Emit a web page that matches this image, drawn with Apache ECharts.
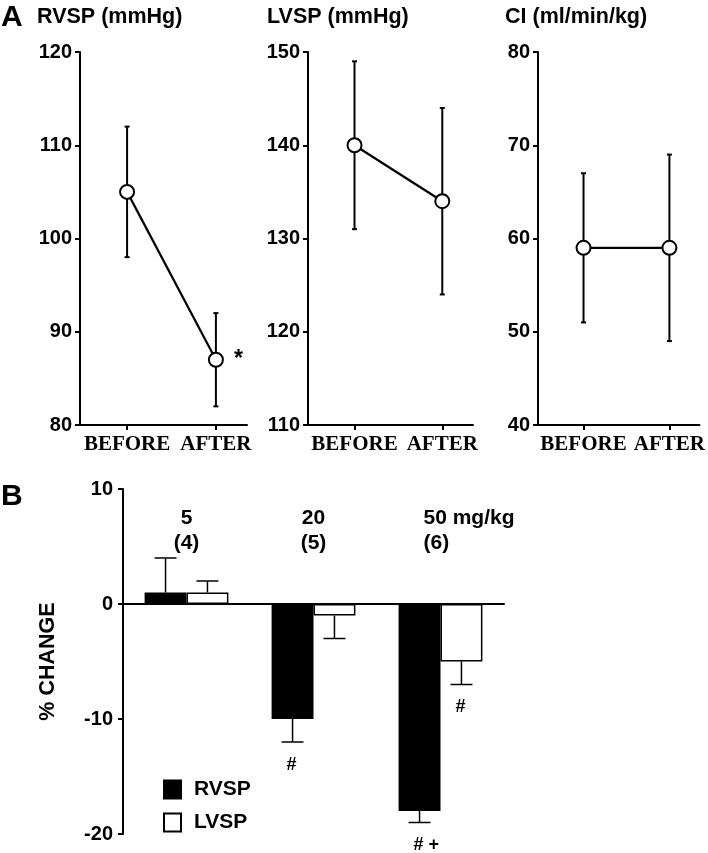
<!DOCTYPE html>
<html>
<head>
<meta charset="utf-8">
<script src="https://cdn.jsdelivr.net/npm/echarts@6/dist/echarts.min.js"></script>
<style>
html,body{margin:0;padding:0;background:#fff;}
#chart{width:708px;height:853px;}
</style>
</head>
<body>
<div id="chart"></div>
<script>
// ---- Panel A data ----
const topCategories = ['BEFORE', 'AFTER'];
const panelTitles = ['RVSP (mmHg)', 'LVSP (mmHg)', 'CI (ml/min/kg)'];
const rvspMean = [105, 87];
const rvspErr = [7, 5];
const rvspSig = ['', '*'];
const lvspMean = [140, 134];
const lvspErr = [9, 10];
const lvspSig = ['', ''];
const ciMean = [59, 59];
const ciErr = [8, 10];
const ciSig = ['', ''];
const yMins = [80, 110, 40];
const yMaxs = [120, 150, 80];

// ---- Panel B data ----
const doseCategories = ['5', '20', '50 mg/kg'];
const nAnimals = ['(4)', '(5)', '(6)'];
const rvspChange = [1, -10, -18];
const rvspChangeErr = [3, 2, 1];
const rvspChangeSig = ['', '#', '# +'];
const lvspChange = [1, -1, -5];
const lvspChangeErr = [1, 2, 2];
const lvspChangeSig = ['', '', '#'];
const bTicks = [-20, 10];

const SANS = 'Liberation Sans, Arial, sans-serif';
const SERIF = 'Liberation Serif, Times New Roman, serif';
const BLACK = '#000';

const chart = echarts.init(document.getElementById('chart'));

const topPanels = [
  {mean: rvspMean, err: rvspErr, sig: rvspSig},
  {mean: lvspMean, err: lvspErr, sig: lvspSig},
  {mean: ciMean, err: ciErr, sig: ciSig}
];
const grids = [
  {left: 80, top: 52, width: 167, height: 373},
  {left: 308, top: 52, width: 165, height: 373},
  {left: 538, top: 52, width: 165, height: 373},
  {left: 123, top: 489, width: 381, height: 345}
];

const xAxes = [], yAxes = [], series = [];
topPanels.forEach((p, i) => {
  xAxes.push({
    type: 'value', gridIndex: i, min: 0.47, max: 2.35,
    splitLine: {show: false},
    axisLine: {show: true, lineStyle: {color: BLACK, width: 2}},
    axisTick: {show: true, length: 5, lineStyle: {color: BLACK, width: 2}, customValues: [1, 2]},
    axisLabel: {
      show: true, customValues: [1, 2], margin: 9,
      formatter: v => topCategories[Math.round(v) - 1] || '',
      fontFamily: SERIF, fontWeight: 'bold', fontSize: 21, color: BLACK
    }
  });
  yAxes.push({
    type: 'value', gridIndex: i, min: yMins[i], max: yMaxs[i], interval: 10,
    splitLine: {show: false},
    axisLine: {show: true, lineStyle: {color: BLACK, width: 2}},
    axisTick: {show: true, length: 5, lineStyle: {color: BLACK, width: 2}},
    axisLabel: {margin: 8, fontFamily: SANS, fontWeight: 'bold', fontSize: 20, color: BLACK}
  });
  series.push({
    type: 'custom', xAxisIndex: i, yAxisIndex: i, z: 1,
    data: p.mean.map((m, k) => [k + 1, m, p.err[k]]),
    encode: {x: 0, y: 1},
    renderItem: (params, api) => {
      const x = api.value(0), m = api.value(1), e = api.value(2);
      const t = api.coord([x, m + e]), b = api.coord([x, m - e]);
      const cw = 2.5;
      const st = {stroke: BLACK, lineWidth: 2};
      return {type: 'group', children: [
        {type: 'line', shape: {x1: t[0], y1: t[1], x2: b[0], y2: b[1]}, style: st},
        {type: 'line', shape: {x1: t[0] - cw, y1: t[1], x2: t[0] + cw, y2: t[1]}, style: st},
        {type: 'line', shape: {x1: b[0] - cw, y1: b[1], x2: b[0] + cw, y2: b[1]}, style: st}
      ]};
    },
    silent: true
  });
  series.push({
    type: 'line', xAxisIndex: i, yAxisIndex: i, z: 3,
    data: p.mean.map((m, k) => ({
      value: [k + 1, m],
      label: {show: !!p.sig[k], formatter: p.sig[k], position: 'right', distance: 10,
        fontFamily: SANS, fontWeight: 'bold', fontSize: 23, color: BLACK}
    })),
    symbol: 'circle', symbolSize: 14,
    lineStyle: {color: BLACK, width: 2.2},
    itemStyle: {color: '#fff', borderColor: BLACK, borderWidth: 2},
    animation: false, silent: true
  });
});

// Panel B axes
xAxes.push({
  type: 'category', gridIndex: 3, data: doseCategories,
  axisLine: {show: true, onZero: true, lineStyle: {color: BLACK, width: 2}},
  axisTick: {show: false}, axisLabel: {show: false}, splitLine: {show: false}
});
yAxes.push({
  type: 'value', gridIndex: 3, min: bTicks[0], max: bTicks[1], interval: 10,
  name: '% CHANGE', nameLocation: 'middle', nameGap: 64, nameRotate: 90,
  nameTextStyle: {fontFamily: SANS, fontWeight: 'bold', fontSize: 21.5, color: BLACK},
  splitLine: {show: false},
  axisLine: {show: true, lineStyle: {color: BLACK, width: 2}},
  axisTick: {show: true, length: 5, lineStyle: {color: BLACK, width: 2}},
  axisLabel: {margin: 10, fontFamily: SANS, fontWeight: 'bold', fontSize: 20, color: BLACK}
});

const CAT_GAP = 0.34;
series.push({
  name: 'RVSP', type: 'bar', xAxisIndex: 3, yAxisIndex: 3,
  data: rvspChange, barGap: '0%', barCategoryGap: (CAT_GAP * 100) + '%',
  itemStyle: {color: BLACK, borderColor: BLACK, borderWidth: 1.5},
  animation: false, silent: true, z: 2
});
series.push({
  name: 'LVSP', type: 'bar', xAxisIndex: 3, yAxisIndex: 3,
  data: lvspChange, barGap: '0%', barCategoryGap: (CAT_GAP * 100) + '%',
  itemStyle: {color: '#fff', borderColor: BLACK, borderWidth: 1.5},
  animation: false, silent: true, z: 2
});

function barErrSeries(vals, errs, sigs, side) {
  return {
    type: 'custom', xAxisIndex: 3, yAxisIndex: 3, z: 1,
    data: vals.map((v, k) => [k, v, errs[k]]),
    encode: {x: 0, y: 1},
    renderItem: (params, api) => {
      const idx = api.value(0), v = api.value(1), e = api.value(2);
      const end = v >= 0 ? v + e : v - e;
      const band = api.size([1, 0])[0];
      const bw = band * (1 - CAT_GAP) / 2;
      const p0 = api.coord([idx, v]), p1 = api.coord([idx, end]);
      const x = p0[0] + side * bw / 2;
      const cw = 11;
      const st = {stroke: BLACK, lineWidth: 1.5};
      const children = [
        {type: 'line', shape: {x1: x, y1: p0[1], x2: x, y2: p1[1]}, style: st},
        {type: 'line', shape: {x1: x - cw, y1: p1[1], x2: x + cw, y2: p1[1]}, style: st}
      ];
      const s = sigs[params.dataIndex];
      if (s) {
        children.push({type: 'text', x: x - 6, y: p1[1] + (v >= 0 ? -23 : 23), style: {
          text: s, fill: BLACK, font: 'bold 18px ' + SANS, align: 'left', verticalAlign: 'middle'}});
      }
      return {type: 'group', children};
    },
    silent: true
  };
}
series.push(barErrSeries(rvspChange, rvspChangeErr, rvspChangeSig, -1));
series.push(barErrSeries(lvspChange, lvspChangeErr, lvspChangeSig, 1));

// dose / n labels
series.push({
  type: 'custom', xAxisIndex: 3, yAxisIndex: 3, z: 5,
  data: doseCategories.map((d, k) => [k, bTicks[1]]),
  encode: {x: 0, y: 1},
  renderItem: (params, api) => {
    const k = params.dataIndex;
    const c = api.coord([api.value(0), api.value(1)]);
    const dose = doseCategories[k];
    const hasUnit = dose.indexOf(' ') >= 0;
    const x = hasUnit ? c[0] - 17 : c[0];
    const align = hasUnit ? 'left' : 'center';
    const font = 'bold 21px ' + SANS;
    return {type: 'group', children: [
      {type: 'text', x: x, y: c[1] + 29, style: {text: dose, font, fill: BLACK, align, verticalAlign: 'middle'}},
      {type: 'text', x: x, y: c[1] + 54, style: {text: nAnimals[k], font, fill: BLACK, align, verticalAlign: 'middle'}}
    ]};
  },
  silent: true
});

const titleStyle = {fontFamily: SANS, fontWeight: 'bold', fontSize: 21.5, color: BLACK};
const option = {
  backgroundColor: '#fff',
  animation: false,
  title: [
    {text: 'A', left: 1, top: 3, padding: 0, textStyle: {fontFamily: SANS, fontWeight: 'bold', fontSize: 30, color: BLACK}},
    {text: panelTitles[0], left: 37, top: 6, padding: 0, textStyle: titleStyle},
    {text: panelTitles[1], left: 267, top: 6, padding: 0, textStyle: titleStyle},
    {text: panelTitles[2], left: 505, top: 6, padding: 0, textStyle: titleStyle},
    {text: 'B', left: 1, top: 482, padding: 0, textStyle: {fontFamily: SANS, fontWeight: 'bold', fontSize: 30, color: BLACK}}
  ],
  legend: {
    data: ['RVSP', 'LVSP'], orient: 'vertical', left: 163, top: 779,
    itemWidth: 17, itemHeight: 18, itemGap: 12, icon: 'rect', padding: 0,
    textStyle: {fontFamily: SANS, fontWeight: 'bold', fontSize: 21, color: BLACK, padding: [0, 0, 0, 8]},
    selectedMode: false
  },
  grid: grids,
  xAxis: xAxes,
  yAxis: yAxes,
  series: series
};
chart.setOption(option);
</script>
</body>
</html>
